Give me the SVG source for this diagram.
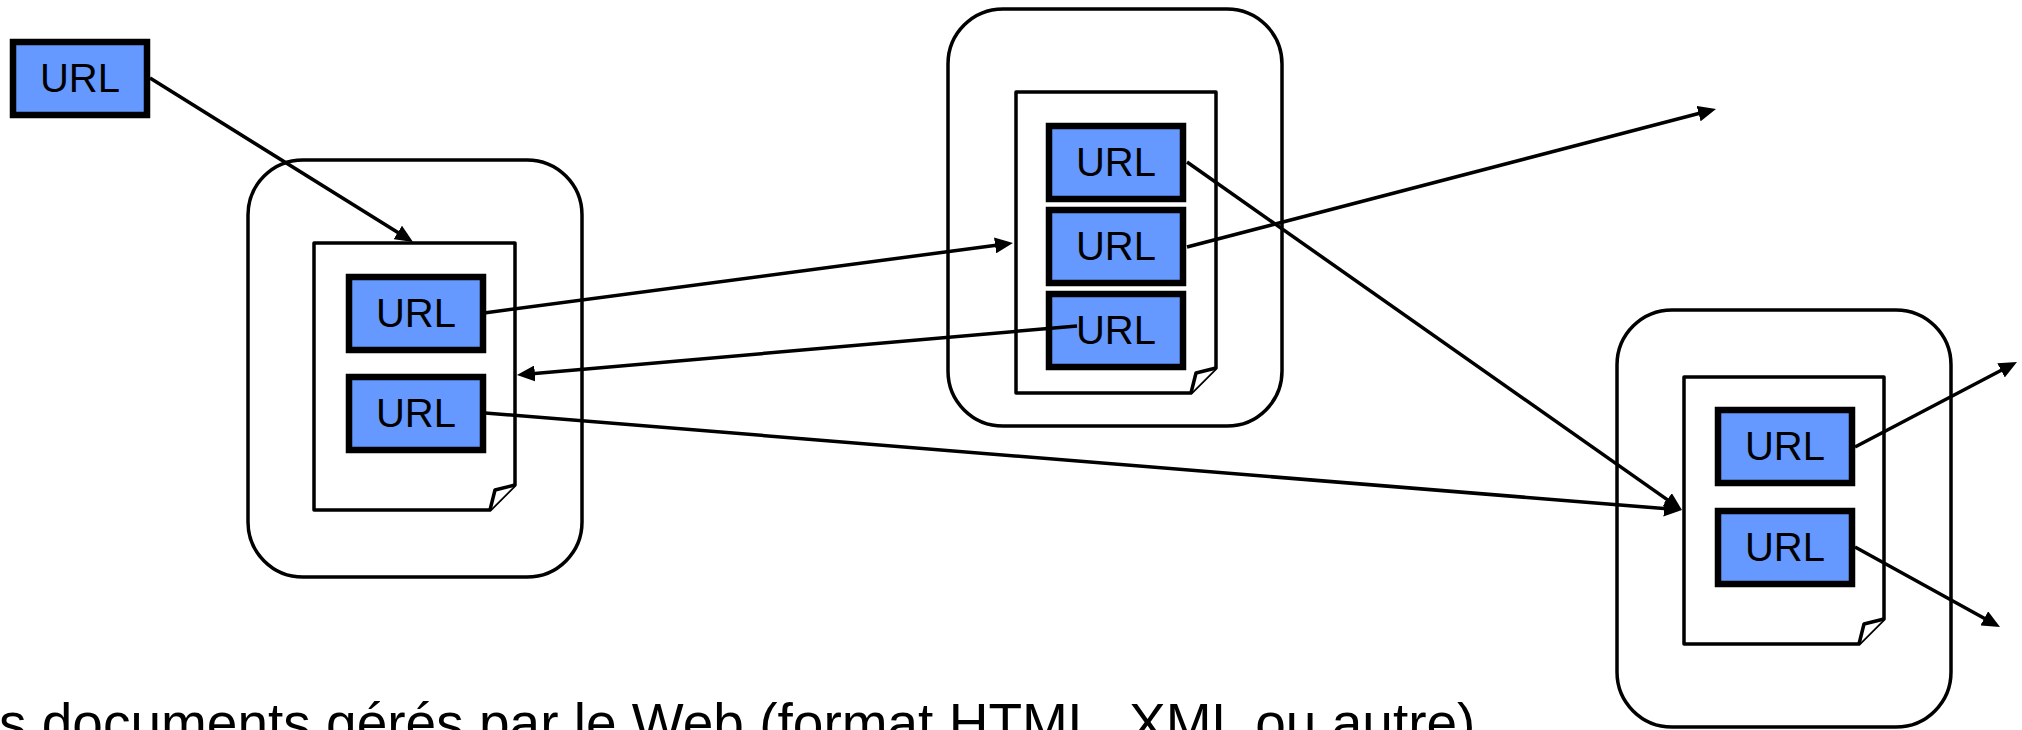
<svg xmlns="http://www.w3.org/2000/svg" width="2022" height="730" viewBox="0 0 2022 730">
<style>
.cont{fill:#fff;stroke:#000;stroke-width:3.5}
.doc{fill:#fff;stroke:#000;stroke-width:3.5;stroke-linejoin:round}
.url{fill:#6699ff;stroke:#000;stroke-width:6.5}
.lbl{font-family:"Liberation Sans",Arial,Helvetica,sans-serif;font-size:40px;fill:#000;text-anchor:middle}
.con{fill:none;stroke:#000;stroke-width:3.5;marker-end:url(#ah)}
.cap{font-family:"Liberation Sans",Arial,Helvetica,sans-serif;font-size:55px;fill:#000}
</style>
<defs>
<marker id="ah" markerUnits="userSpaceOnUse" viewBox="0 0 18 16" markerWidth="18" markerHeight="16" refX="3" refY="8" orient="auto">
<path d="M0,0 L18,8 L0,16 z" fill="#000"/>
</marker>
</defs>
<rect width="2022" height="730" fill="#fff"/>

<g id="url-top">
<rect class="url" x="13" y="42" width="134" height="73"/>
<text class="lbl" x="80" y="92">URL</text>
</g>

<g id="page-a">
<rect class="cont" x="248" y="160" width="334" height="417" rx="55" ry="55"/>
<path class="doc" d="M314,243 L515,243 L515,485 L490,510 L314,510 Z"/>
<path class="doc" d="M490,510 L495,490 L515,485"/>
<g id="url-a1">
<rect class="url" x="349" y="277" width="134" height="73"/>
<text class="lbl" x="416" y="327">URL</text>
</g>
<g id="url-a2">
<rect class="url" x="349" y="377" width="134" height="73"/>
<text class="lbl" x="416" y="427">URL</text>
</g>
</g>

<g id="page-b">
<rect class="cont" x="948" y="9" width="334" height="417" rx="55" ry="55"/>
<path class="doc" d="M1016,92 L1216,92 L1216,368 L1191,393 L1016,393 Z"/>
<path class="doc" d="M1191,393 L1196,373 L1216,368"/>
<g id="url-b1">
<rect class="url" x="1049" y="126" width="134" height="73"/>
<text class="lbl" x="1116" y="176">URL</text>
</g>
<g id="url-b2">
<rect class="url" x="1049" y="210" width="134" height="73"/>
<text class="lbl" x="1116" y="260">URL</text>
</g>
<g id="url-b3">
<rect class="url" x="1049" y="294" width="134" height="73"/>
<text class="lbl" x="1116" y="344">URL</text>
</g>
</g>

<g id="page-c">
<rect class="cont" x="1617" y="310" width="334" height="417" rx="55" ry="55"/>
<path class="doc" d="M1684,377 L1884,377 L1884,619 L1859,644 L1684,644 Z"/>
<path class="doc" d="M1859,644 L1864,624 L1884,619"/>
<g id="url-c1">
<rect class="url" x="1718" y="410" width="134" height="73"/>
<text class="lbl" x="1785" y="460">URL</text>
</g>
<g id="url-c2">
<rect class="url" x="1718" y="511" width="134" height="73"/>
<text class="lbl" x="1785" y="561">URL</text>
</g>
</g>

<g id="connectors">
<line class="con" x1="150" y1="78" x2="400.3" y2="234.1"/>
<line class="con" x1="484" y1="313" x2="998.1" y2="245"/>
<line class="con" x1="1077" y1="326" x2="531.9" y2="373.7"/>
<line class="con" x1="485" y1="413" x2="1667" y2="508.8"/>
<line class="con" x1="1187" y1="162" x2="1669.7" y2="501.4"/>
<line class="con" x1="1187" y1="247" x2="1701.5" y2="112.8"/>
<line class="con" x1="1855" y1="447" x2="2003.7" y2="369"/>
<line class="con" x1="1855" y1="547" x2="1986.9" y2="619.8"/>
</g>

<g id="caption">
<text class="cap" x="-1" y="742">s documents gérés par le Web (format HTML, XML ou autre)</text>
</g>
</svg>
